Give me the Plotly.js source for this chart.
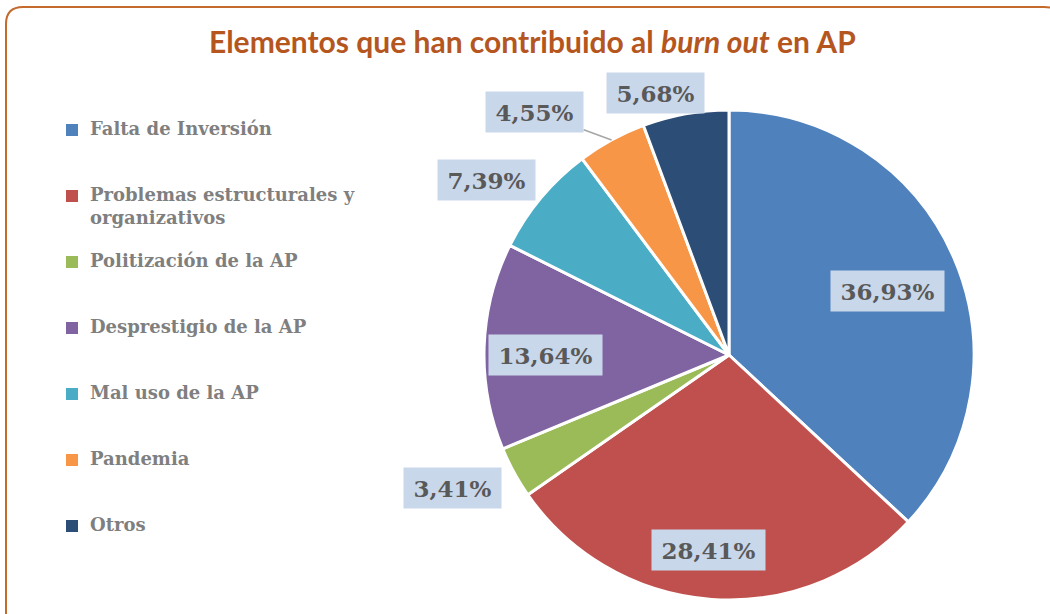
<!DOCTYPE html>
<html>
<head>
<meta charset="utf-8">
<script src="https://cdn.plot.ly/plotly-3.0.1.min.js"></script>
<style>
  html, body { margin: 0; padding: 0; background: #fff; }
  #chart { width: 1050px; height: 614px; }
</style>
</head>
<body>
<div id="chart"></div>
<script>
// data
const categories = [
    'Falta de Inversión',
    'Problemas estructurales y organizativos',
    'Politización de la AP',
    'Desprestigio de la AP',
    'Mal uso de la AP',
    'Pandemia',
    'Otros'
];
const shares = [36.93, 28.41, 3.41, 13.64, 7.39, 4.55, 5.68];
const sliceColors = ['#4f81bd', '#c0504d', '#9bbb59', '#8064a2', '#4bacc6', '#f79646', '#2c4d75'];
const chartTitle = 'Elementos que han contribuido al <i>burn out</i> en AP';

// page geometry (px)
const W = 1050, H = 614;
const cx = 729, cy = 355, r = 245;

// label placement like Excel's "best fit": radius factor + small angle nudge
const labelRadius = [0.70, 0.80, 1.25, 0.75, 1.22, 1.27, 1.11];
const labelNudge = [1.5, 2, 3, -2, -4, -10, -5.4];
const leaderLine = [false, false, false, false, false, true, false];

const px = x => x / W;
const py = y => 1 - y / H;
const fmt = v => v.toFixed(2).replace('.', ',') + '%';

const total = shares.reduce((a, b) => a + b, 0);
const labelFont = { family: 'DejaVu Serif', size: 23, color: '#595959', weight: 700 };

// pie trace
const trace = {
    type: 'pie',
    values: shares,
    labels: categories,
    sort: false,
    direction: 'clockwise',
    rotation: 0,
    textinfo: 'none',
    hoverinfo: 'label+percent',
    showlegend: false,
    marker: { colors: sliceColors, line: { color: '#ffffff', width: 3 } },
    domain: { x: [px(cx - r), px(cx + r)], y: [py(cy + r), py(cy - r)] }
};

const annotations = [];
const shapes = [];

// value labels
let cum = 0;
shares.forEach((v, i) => {
    const mid = (cum + v / 2) / total * 360;
    cum += v;
    const a = (mid + labelNudge[i]) * Math.PI / 180;
    const lx = cx + labelRadius[i] * r * Math.sin(a);
    const ly = cy - labelRadius[i] * r * Math.cos(a);
    const ann = {
        text: '\u2009<b>' + fmt(v) + '</b>\u2009',
        xref: 'paper', yref: 'paper',
        font: labelFont,
        bgcolor: '#c9d7ea',
        borderpad: 5,
        height: 30,
        valign: 'middle',
        showarrow: false
    };
    if (leaderLine[i]) {
        const m = mid * Math.PI / 180;
        const ex = cx + r * Math.sin(m);
        const ey = cy - r * Math.cos(m);
        Object.assign(ann, {
            x: px(ex), y: py(ey),
            showarrow: true, arrowhead: 0, arrowwidth: 1.5, arrowcolor: '#a6a6a6',
            standoff: 0, ax: lx - ex, ay: ly - ey
        });
    } else {
        Object.assign(ann, { x: px(lx), y: py(ly), xanchor: 'center', yanchor: 'middle' });
    }
    annotations.push(ann);
});

// legend on the left, drawn by hand to match spacing
function wrap(s, n) {
    const words = s.split(' ');
    const lines = [''];
    words.forEach(w => {
        const cur = lines[lines.length - 1];
        if (cur && (cur + ' ' + w).length > n) lines.push(w);
        else lines[lines.length - 1] = cur ? cur + ' ' + w : w;
    });
    return lines;
}
categories.forEach((c, i) => {
    const rowY = 130 + i * 66;
    const lines = wrap(c, 26);
    shapes.push({
        type: 'rect', xref: 'paper', yref: 'paper',
        x0: px(66), x1: px(78), y0: py(rowY - 6), y1: py(rowY + 6),
        fillcolor: sliceColors[i], line: { width: 0 }
    });
    annotations.push({
        text: '<b>' + lines.join('<br>') + '</b>',
        xref: 'paper', yref: 'paper',
        x: px(88), y: py(rowY - 14),
        xanchor: 'left', yanchor: 'top', align: 'left',
        showarrow: false,
        font: { family: 'DejaVu Serif', size: 18, color: '#7f7f7f' }
    });
});

// rounded frame round the chart
shapes.push({
    type: 'path', xref: 'paper', yref: 'paper',
    path: `M ${px(6)},${py(640)} L ${px(6)},${py(24)} Q ${px(6)},${py(7)} ${px(23)},${py(7)} ` +
          `L ${px(1044)},${py(7)} Q ${px(1062)},${py(7)} ${px(1062)},${py(24)}`,
    line: { color: '#c46a2c', width: 2 }
});

const layout = {
    width: W, height: H,
    margin: { l: 0, r: 0, t: 0, b: 0 },
    paper_bgcolor: '#ffffff',
    title: {
        text: '<b>' + chartTitle + '</b>',
        x: 0.507, xanchor: 'center',
        y: py(42), yanchor: 'middle', yref: 'container',
        font: { family: 'Lato, sans-serif', size: 30, color: '#b5561f' }
    },
    annotations: annotations,
    shapes: shapes
};

Plotly.newPlot('chart', [trace], layout, { displayModeBar: false, staticPlot: true });
</script>
</body>
</html>
